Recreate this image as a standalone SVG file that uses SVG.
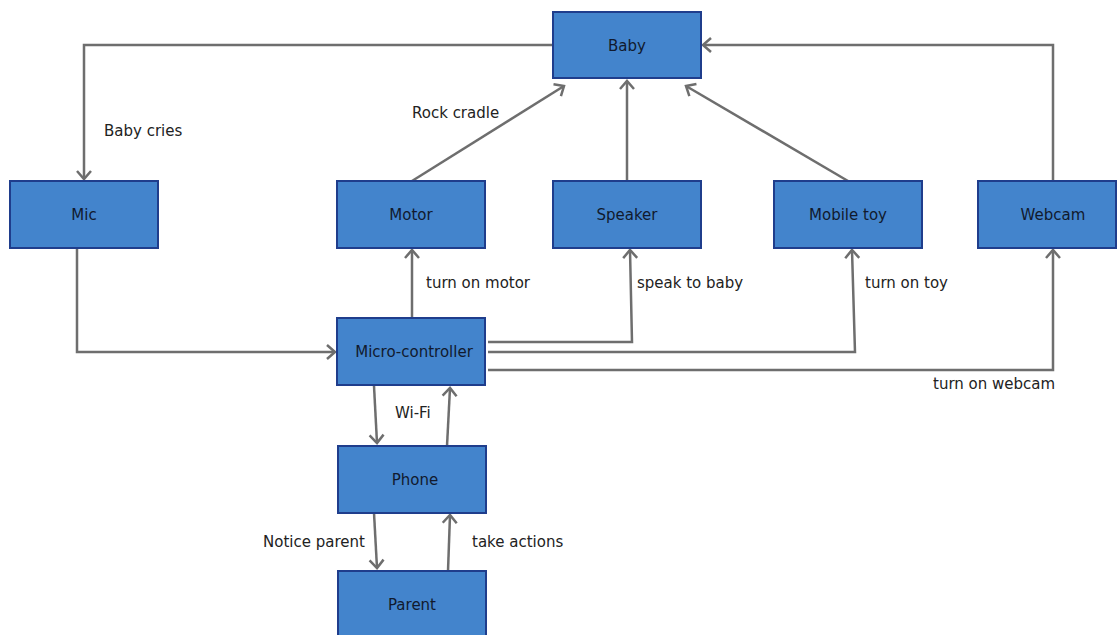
<svg xmlns="http://www.w3.org/2000/svg" width="1118" height="635" viewBox="0 0 1118 635">
<defs>
<marker id="arr" markerUnits="userSpaceOnUse" markerWidth="20" markerHeight="20" viewBox="-10 -10 20 20" refX="0" refY="0" orient="auto">
<path d="M-8,-7 L0,0 L-8,7" fill="none" stroke="#6e6e6e" stroke-width="2.5"/>
</marker>
</defs>
<style>
.box{fill:#4384cc;stroke:#1f3d8c;stroke-width:2}
.t{font-family:"DejaVu Sans",sans-serif;font-size:15px;fill:#111a2e;text-anchor:middle}
.l{font-family:"DejaVu Sans",sans-serif;font-size:15px;fill:#222}
.c{fill:none;stroke:#6e6e6e;stroke-width:2.5}
.a{marker-end:url(#arr)}
</style>
<rect width="1118" height="635" fill="#fff"/>
<g id="connectors">
<polyline class="c a" points="553,45 84,45 84,179"/>
<polyline class="c a" points="1053,181 1053,45 703,45"/>
<line class="c a" x1="412" y1="181" x2="564" y2="86"/>
<line class="c a" x1="627" y1="181" x2="627" y2="81"/>
<line class="c a" x1="848" y1="181" x2="686" y2="86"/>
<polyline class="c a" points="77,249 77,352 335,352"/>
<line class="c a" x1="412" y1="318" x2="412" y2="250"/>
<polyline class="c a" points="488,342 632,342 630,250"/>
<polyline class="c a" points="488,352 855,352 852,250"/>
<polyline class="c a" points="488,370 1053,370 1053,250"/>
<line class="c a" x1="374" y1="386" x2="377" y2="443"/>
<line class="c a" x1="447" y1="446" x2="450" y2="388"/>
<line class="c a" x1="374" y1="513" x2="377" y2="568"/>
<line class="c a" x1="448" y1="571" x2="450" y2="515"/>
<text class="l" x="104" y="136">Baby cries</text>
<text class="l" x="412" y="118">Rock cradle</text>
<text class="l" x="426" y="288">turn on motor</text>
<text class="l" x="637" y="288">speak to baby</text>
<text class="l" x="865" y="288">turn on toy</text>
<text class="l" x="933" y="389">turn on webcam</text>
<text class="l" x="395" y="418">Wi-Fi</text>
<text class="l" x="263" y="547">Notice parent</text>
<text class="l" x="472" y="547">take actions</text>
</g>
<g id="baby"><rect class="box" x="553" y="12" width="148" height="66"/><text class="t" x="627" y="51">Baby</text></g>
<g id="mic"><rect class="box" x="10" y="181" width="148" height="67"/><text class="t" x="84" y="220">Mic</text></g>
<g id="motor"><rect class="box" x="337" y="181" width="148" height="67"/><text class="t" x="411" y="220">Motor</text></g>
<g id="speaker"><rect class="box" x="553" y="181" width="148" height="67"/><text class="t" x="627" y="220">Speaker</text></g>
<g id="mobile-toy"><rect class="box" x="774" y="181" width="148" height="67"/><text class="t" x="848" y="220">Mobile toy</text></g>
<g id="webcam"><rect class="box" x="978" y="181" width="138" height="67"/><text class="t" x="1053" y="220">Webcam</text></g>
<g id="micro-controller"><rect class="box" x="337" y="318" width="148" height="67"/><text class="t" x="414" y="357">Micro-controller</text></g>
<g id="phone"><rect class="box" x="338" y="446" width="148" height="67"/><text class="t" x="415" y="485">Phone</text></g>
<g id="parent"><rect class="box" x="338" y="571" width="148" height="70"/><text class="t" x="412" y="610">Parent</text></g>
</svg>
